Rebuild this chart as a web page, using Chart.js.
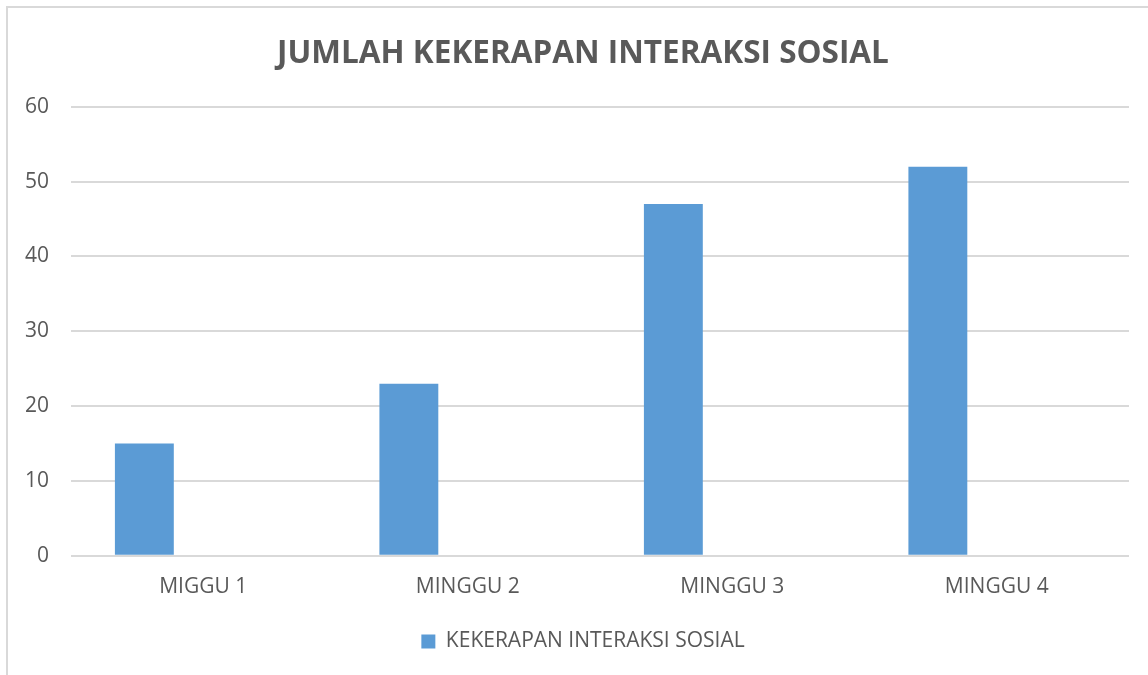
<!DOCTYPE html>
<html>
<head>
<meta charset="utf-8">
<script src="https://cdn.jsdelivr.net/npm/chart.js@4/dist/chart.umd.min.js"></script>
<style>
  html, body { margin: 0; padding: 0; background: #fff; overflow: hidden; }
  #box {
    position: absolute; left: 6px; top: 6px;
    width: 1150px; height: 700px;
    border: 2px solid #d9d9d9;
  }
  canvas { display: block; }
</style>
</head>
<body>
<div id="box"><canvas id="myChart" width="1150" height="700"></canvas></div>
<script>
  const weeks = ['MIGGU 1', 'MINGGU 2', 'MINGGU 3', 'MINGGU 4'];
  const seriesName = 'KEKERAPAN INTERAKSI SOSIAL';
  const interaksi = [15, 23, 47, 52];
  const yTicks = [0, 10, 20, 30, 40, 50, 60];

  const textColor = '#595959';
  const gridColor = '#d9d9d9';
  const barColor = '#5b9bd5';

  // Excel layout had empty series beside the real one, so bars sit left of centre
  const datasets = [
    { label: seriesName, data: interaksi, backgroundColor: barColor },
    { label: '', data: [], backgroundColor: 'transparent' },
    { label: '', data: [], backgroundColor: 'transparent' }
  ];

  const ctx = document.getElementById('myChart').getContext('2d');
  const myChart = new Chart(ctx, {
    type: 'bar',
    data: { labels: weeks, datasets },
    options: {
      responsive: false,
      animation: false,
      categoryPercentage: 0.668,
      barPercentage: 1,
      layout: { padding: { left: 16, right: 16, top: 27, bottom: 46 } },
      scales: {
        x: {
          grid: { display: false },
          border: { display: false },
          ticks: { color: textColor, font: { family: 'Open Sans', size: 21 }, padding: 11 }
        },
        y: {
          min: yTicks[0],
          max: yTicks[yTicks.length - 1],
          afterBuildTicks: axis => { axis.ticks = yTicks.map(v => ({ value: v })); },
          afterFit: axis => { axis.width = 47; },
          grid: { color: gridColor, lineWidth: 2, drawTicks: false },
          border: { display: false },
          ticks: { color: textColor, font: { family: 'Open Sans', size: 21 }, padding: 22 }
        },
        // empty right margin so the title stays centred on the whole frame
        yRight: {
          position: 'right',
          afterFit: axis => { axis.width = 13; },
          grid: { display: false },
          border: { display: false },
          ticks: { display: false }
        }
      },
      plugins: {
        title: {
          display: true,
          text: 'JUMLAH KEKERAPAN INTERAKSI SOSIAL',
          color: textColor,
          font: { family: 'Open Sans', size: 31.5, weight: 'bold' },
          padding: { top: 0, bottom: 34 }
        },
        legend: {
          display: true,
          position: 'bottom',
          labels: {
            color: textColor,
            font: { family: 'Open Sans', size: 21 },
            boxWidth: 14,
            boxHeight: 14,
            padding: 20,
            filter: item => item.datasetIndex === 0
          }
        },
        tooltip: { enabled: false }
      }
    }
  });
</script>
</body>
</html>
